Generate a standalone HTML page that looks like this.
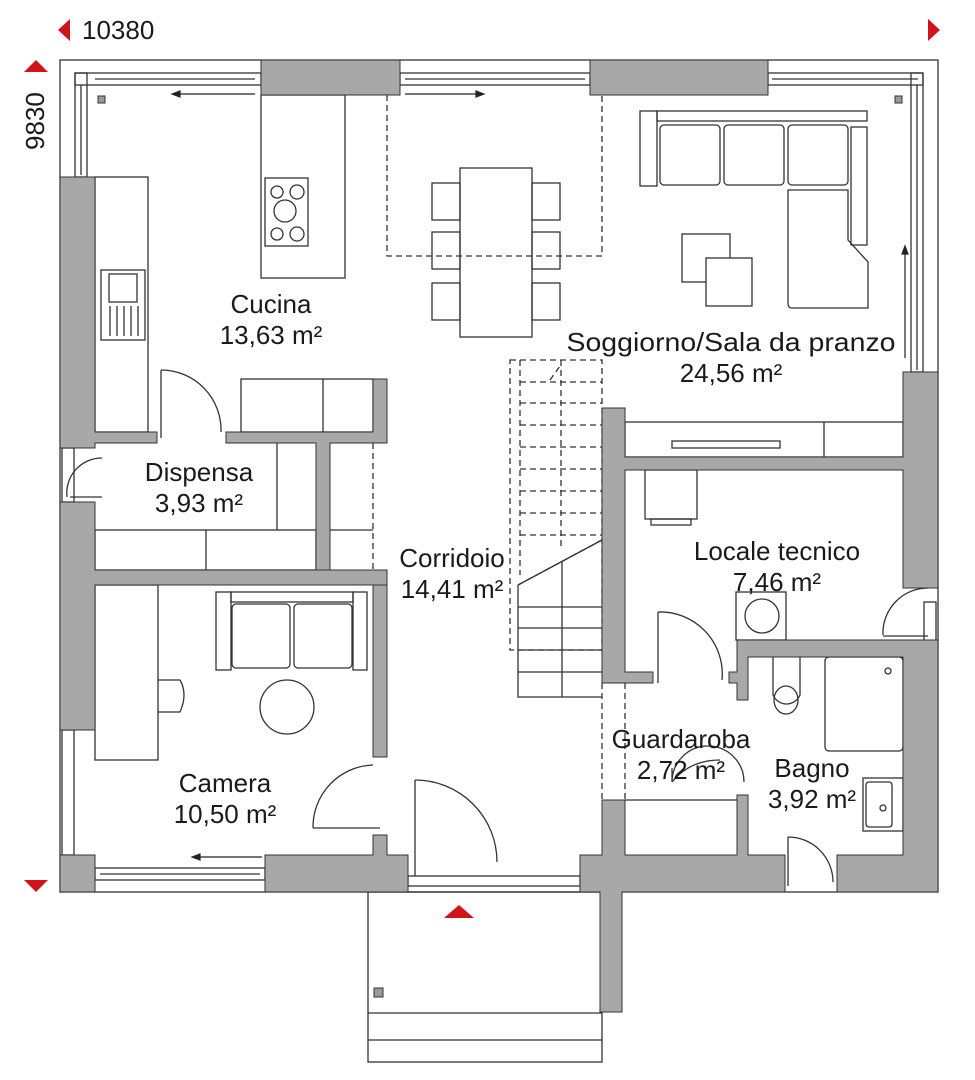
<!DOCTYPE html>
<html><head><meta charset="utf-8"><style>
html,body{margin:0;padding:0;background:#fff}
svg{display:block}
text{font-family:"Liberation Sans",sans-serif;fill:#1a1a1a}
</style></head><body>
<svg width="975" height="1080" viewBox="0 0 975 1080" xmlns="http://www.w3.org/2000/svg">
<g fill="none" stroke="#333" stroke-width="1.3">
<rect x="60" y="60" width="878" height="832"/>
<rect x="75" y="73" width="186" height="12"/><line x1="95" y1="79" x2="255" y2="79"/>
<rect x="400" y="73" width="190" height="12"/><line x1="405" y1="79" x2="585" y2="79"/>
<rect x="768" y="73" width="155" height="12"/><line x1="772" y1="79" x2="918" y2="79"/>
<rect x="75" y="73" width="12" height="104"/><line x1="81" y1="85" x2="81" y2="175"/>
<rect x="911" y="73" width="12" height="299"/><line x1="917" y1="85" x2="917" y2="370"/>
<rect x="62" y="730" width="12" height="125"/><rect x="62" y="448" width="12" height="54"/>
<rect x="95" y="868" width="170" height="12"/><line x1="100" y1="874" x2="260" y2="874"/>
<rect x="408" y="876" width="172" height="10"/>
<rect x="924" y="602" width="12" height="53"/>
<rect x="95" y="177" width="53" height="255"/>
<rect x="101" y="270" width="44" height="70"/><rect x="109" y="274" width="28" height="28"/>
<line x1="110" y1="306" x2="110" y2="336"/><line x1="117" y1="306" x2="117" y2="336"/><line x1="124" y1="306" x2="124" y2="336"/><line x1="131" y1="306" x2="131" y2="336"/><line x1="138" y1="306" x2="138" y2="336"/>
<rect x="261" y="95" width="84" height="183"/>
<rect x="265" y="178" width="43" height="68"/>
<circle cx="277" cy="192" r="6"/><circle cx="297" cy="192" r="7"/><circle cx="285" cy="211" r="11"/><circle cx="277" cy="234" r="6"/><circle cx="297" cy="234" r="7"/>
<rect x="241" y="379" width="132" height="53"/><line x1="323" y1="379" x2="323" y2="432"/>
<path d="M161 370 A60 60 0 0 1 221 432"/><line x1="161" y1="370" x2="161" y2="438"/>
<path d="M387 95 V256 H602 V95" stroke-dasharray="6 4"/>
<rect x="460" y="168" width="72" height="169"/>
<rect x="432" y="183" width="28" height="37"/><rect x="432" y="232" width="28" height="37"/><rect x="432" y="283" width="28" height="37"/>
<rect x="532" y="183" width="28" height="37"/><rect x="532" y="232" width="28" height="37"/><rect x="532" y="283" width="28" height="37"/>
<rect x="657" y="111" width="210" height="10"/><rect x="640" y="111" width="17" height="75"/><rect x="851" y="127" width="16" height="118"/>
<rect x="660" y="125" width="60" height="60" rx="4"/><rect x="724" y="125" width="60" height="60" rx="4"/><rect x="788" y="125" width="60" height="60" rx="4"/>
<path d="M788 190 H848 V240 L868 262 V308 H792 Q788 308 788 303 Z"/>
<rect x="682" y="234" width="48" height="48"/><rect x="706" y="258" width="46" height="48" fill="#fff"/>
<rect x="510" y="360" width="92" height="290" stroke-dasharray="6 4"/>
<g stroke-dasharray="6 4"><line x1="520" y1="360" x2="520" y2="575"/><line x1="561" y1="360" x2="561" y2="550"/>
<line x1="520" y1="382" x2="602" y2="382"/><line x1="520" y1="403" x2="602" y2="403"/><line x1="520" y1="425" x2="602" y2="425"/><line x1="520" y1="447" x2="602" y2="447"/><line x1="520" y1="469" x2="602" y2="469"/><line x1="520" y1="491" x2="602" y2="491"/><line x1="520" y1="513" x2="602" y2="513"/><line x1="520" y1="535" x2="602" y2="535"/>
<line x1="550" y1="380" x2="560" y2="366"/><line x1="518" y1="585" x2="602" y2="540"/></g>
<path d="M518 585 L602 540 M518 585 V697 H602"/><line x1="562" y1="562" x2="562" y2="697"/>
<line x1="518" y1="607" x2="602" y2="607"/><line x1="518" y1="628" x2="602" y2="628"/><line x1="518" y1="650" x2="602" y2="650"/><line x1="518" y1="672" x2="602" y2="672"/>
<rect x="625" y="422" width="278" height="35"/><rect x="672" y="441" width="108" height="7"/><line x1="824" y1="422" x2="824" y2="457"/>
<rect x="645" y="470" width="52" height="49"/><rect x="651" y="519" width="40" height="6"/>
<rect x="736" y="592" width="50" height="48"/><circle cx="762" cy="616" r="17"/>
<path d="M658 612 A62 62 0 0 1 722 680"/><line x1="658" y1="612" x2="658" y2="683"/>
<path d="M883 635 A45 45 0 0 1 928 588"/><line x1="883" y1="636" x2="928" y2="636"/>
<path d="M773 657 V695 A15 16 0 0 0 800 695 V657"/><ellipse cx="786" cy="700" rx="12" ry="14"/>
<rect x="825" y="657" width="78" height="94" rx="4"/><circle cx="888" cy="671" r="3"/>
<rect x="863" y="778" width="40" height="53"/><rect x="866" y="782" width="26" height="45" rx="3"/><circle cx="883" cy="808" r="3"/>
<path d="M788 837 A45 45 0 0 1 833 882"/><line x1="788" y1="837" x2="788" y2="886"/>
<line x1="602" y1="683" x2="602" y2="800" stroke-dasharray="6 4"/><line x1="625" y1="683" x2="625" y2="800" stroke-dasharray="6 4"/>
<path d="M672 768 L672 782 A1 1 0 0 1 744 782"/><path d="M672 782 Q690 760 720 760"/>
<line x1="625" y1="800" x2="737" y2="800"/>
<path d="M67 497 A35 35 0 0 1 102 458"/><line x1="70" y1="497" x2="102" y2="497"/>
<rect x="95" y="530" width="221" height="40"/><line x1="206" y1="530" x2="206" y2="570"/><line x1="277" y1="443" x2="277" y2="530"/>
<line x1="330" y1="530" x2="373" y2="530"/><line x1="373" y1="443" x2="373" y2="570" stroke-dasharray="6 4"/>
<rect x="95" y="585" width="63" height="175"/><path d="M158 680 H180 Q188 694 180 712 H158"/>
<rect x="216" y="592" width="15" height="78"/><rect x="231" y="592" width="122" height="10"/><rect x="353" y="592" width="14" height="78"/>
<rect x="232" y="604" width="58" height="64" rx="4"/><rect x="294" y="604" width="58" height="64" rx="4"/>
<circle cx="287" cy="707" r="27"/>
<path d="M313 828 A62 62 0 0 1 373 765"/><line x1="313" y1="828" x2="380" y2="828"/>
<path d="M415 780 A82 82 0 0 1 497 862"/><line x1="415" y1="780" x2="415" y2="876"/>
<rect x="368" y="892" width="234" height="170"/><line x1="368" y1="1013" x2="602" y2="1013"/><line x1="368" y1="1040" x2="602" y2="1040"/>
</g>
<g fill="#a8a8a8" stroke="#333" stroke-width="1">
<rect x="261" y="60" width="139" height="35"/><rect x="590" y="60" width="178" height="35"/>
<path d="M60 177 H95 V432 H157 V443 H95 V448 H60 Z"/>
<path d="M226 432 H373 V379 H387 V443 H330 V570 H316 V443 H226 Z"/>
<path d="M60 502 H95 V570 H387 V585 H95 V730 H60 Z"/>
<rect x="373" y="585" width="14" height="172"/>
<rect x="60" y="855" width="35" height="37"/>
<path d="M265 855 H373 V835 H387 V855 H408 V892 H265 Z"/>
<path d="M602 408 H625 V457 H903 V372 H938 V588 H903 V470 H625 V672 H653 V683 H602 Z"/>
<path d="M737 640 H938 V892 H837 V855 H903 V657 H748 V700 H737 V683 H729 V672 H737 Z"/>
<path d="M602 800 H625 V855 H737 V795 H748 V855 H785 V892 H622 V1012 H600 V892 H580 V855 H602 Z"/>
</g>
<rect x="98" y="96" width="7" height="7" fill="#999" stroke="#333"/><rect x="895" y="96" width="7" height="7" fill="#999" stroke="#333"/>
<rect x="374" y="988" width="9" height="9" fill="#999" stroke="#333"/>
<g stroke="#222" stroke-width="1.2" fill="#222">
<line x1="178" y1="94" x2="255" y2="94"/><path d="M172 94 l8 -3 v6z"/>
<line x1="405" y1="94" x2="478" y2="94"/><path d="M484 94 l-8 -3 v6z"/>
<line x1="198" y1="857" x2="262" y2="857"/><path d="M192 857 l8 -3 v6z"/>
<line x1="905" y1="252" x2="905" y2="358"/><path d="M905 246 l-3 8 h6z"/>
</g>
<g fill="#d0141c">
<path d="M58 30 l12 -11 v22z"/><path d="M940 30 l-12 -11 v22z"/>
<path d="M36 60 l-12 12 h24z"/><path d="M36 892 l-12 -12 h24z"/>
<path d="M459 905 l-15 13 h30z"/>
</g>
<text x="82" y="39" font-size="26">10380</text>
<text transform="translate(44 150) rotate(-90)" font-size="26">9830</text>
<g font-size="26" text-anchor="middle">
<text x="271" y="313">Cucina</text><text x="271" y="344">13,63 m²</text>
<text x="731" y="351" textLength="329" lengthAdjust="spacingAndGlyphs">Soggiorno/Sala da pranzo</text><text x="731" y="382">24,56 m²</text>
<text x="199" y="481">Dispensa</text><text x="199" y="512">3,93 m²</text>
<text x="452" y="567">Corridoio</text><text x="452" y="598">14,41 m²</text>
<text x="777" y="560">Locale tecnico</text><text x="777" y="591">7,46 m²</text>
<text x="681" y="748">Guardaroba</text><text x="681" y="779">2,72 m²</text>
<text x="812" y="777">Bagno</text><text x="812" y="808">3,92 m²</text>
<text x="225" y="792">Camera</text><text x="225" y="823">10,50 m²</text>
</g>
</svg>
</body></html>
